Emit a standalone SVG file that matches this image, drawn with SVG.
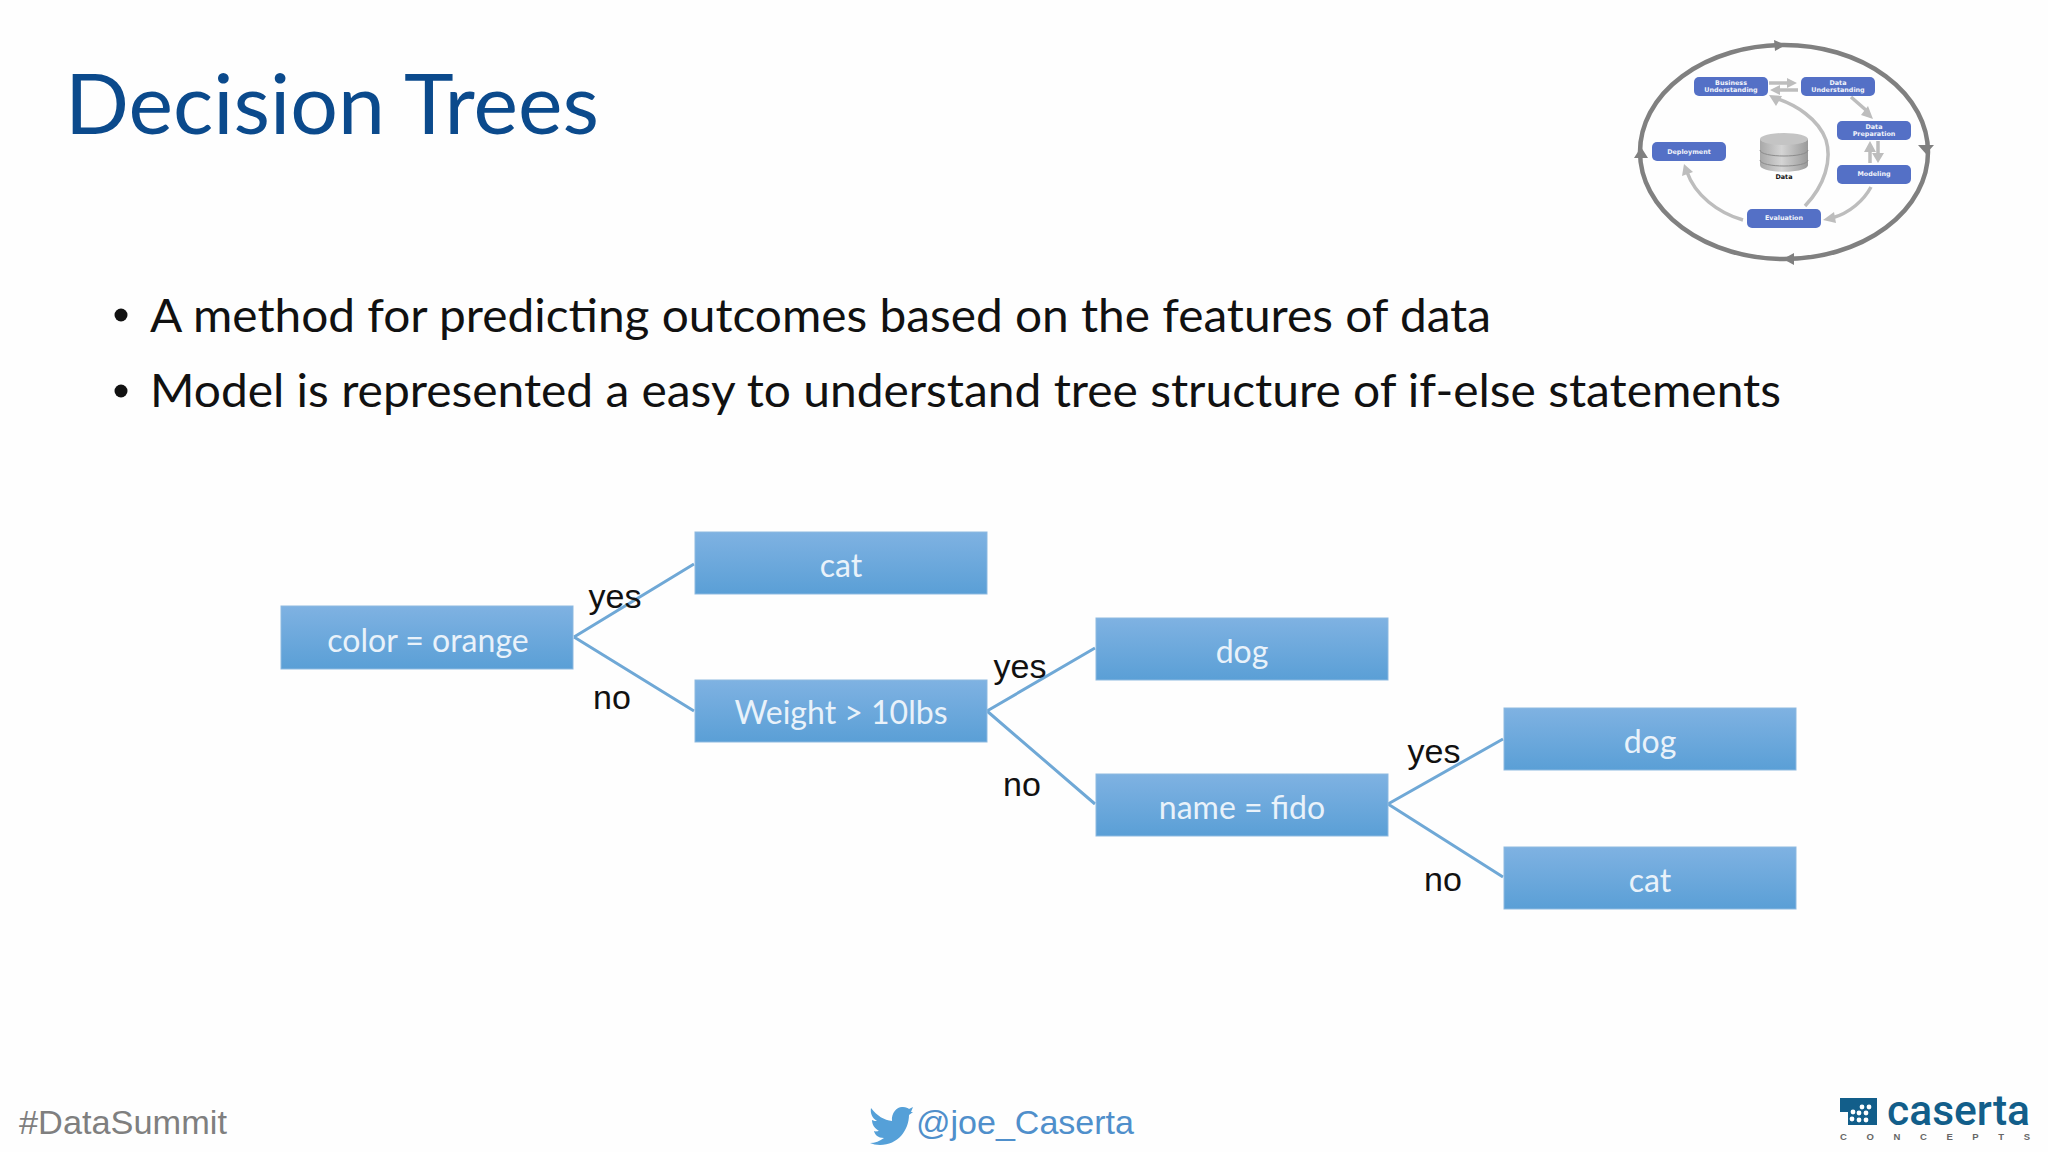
<svg xmlns="http://www.w3.org/2000/svg" width="2048" height="1152" viewBox="0 0 2048 1152">
<style>
.lato{font-family:Lato,"Liberation Sans",sans-serif}
.arial{font-family:"Liberation Sans",Arial,sans-serif}
.box{fill:url(#boxg);stroke:#8db9e0;stroke-width:1}
.boxt{font-family:Lato,"Liberation Sans",sans-serif;font-size:32px;fill:#e9f2fa;text-anchor:middle}
.lab{font-family:"Liberation Sans",Arial,sans-serif;font-size:34px;fill:#111;text-anchor:middle}
.con{stroke:#6fa8d6;stroke-width:3;fill:none}
.bul{font-family:Lato,"Liberation Sans",sans-serif;font-size:46px;fill:#111}
.in{fill:#5470c6}
.int{font-family:"DejaVu Sans",sans-serif;font-size:6.4px;font-weight:700;fill:#f2f4fb;text-anchor:middle}
.outer{fill:none;stroke:#808080;stroke-width:4.5}
.ga{fill:#808080}
.lg{fill:none;stroke:#bdbdbd;stroke-width:3.5}
.lga{fill:#bdbdbd}
</style>
<defs>
<linearGradient id="boxg" x1="0" y1="0" x2="0" y2="1"><stop offset="0" stop-color="#7fb2e2"/><stop offset="1" stop-color="#5a9fd6"/></linearGradient>
<linearGradient id="cyl" x1="0" y1="0" x2="1" y2="0"><stop offset="0" stop-color="#a8a8a8"/><stop offset=".45" stop-color="#d4d4d4"/><stop offset="1" stop-color="#9a9a9a"/></linearGradient>
</defs>
<rect width="2048" height="1152" fill="#fefefe"/>
<text id="title" class="lato" x="65" y="134" font-size="84" fill="#0b4a8c" textLength="534" lengthAdjust="spacingAndGlyphs">Decision Trees</text>
<g id="bullets">
<circle cx="121" cy="315" r="6.5" fill="#111"/>
<text class="bul" x="150" y="332" textLength="1341" lengthAdjust="spacingAndGlyphs">A method for predicting outcomes based on the features of data</text>
<circle cx="121" cy="391" r="6.5" fill="#111"/>
<text class="bul" x="150" y="407" textLength="1631" lengthAdjust="spacingAndGlyphs">Model is represented a easy to understand tree structure of if-else statements</text>
</g>
<g id="connectors">
<path class="con" d="M574 637L694 564M574 637L694 711M987 711L1095 648M987 711L1095 804M1388 804L1503 739M1388 804L1503 877"/>
</g>
<g id="n-color"><rect class="box" x="281" y="606" width="292" height="63"/><text class="boxt" x="428" y="652">color = orange</text></g>
<g id="n-cat1"><rect class="box" x="695" y="532" width="292" height="62"/><text class="boxt" x="841" y="577">cat</text></g>
<g id="n-weight"><rect class="box" x="695" y="680" width="292" height="62"/><text class="boxt" x="841" y="724">Weight &gt; 10lbs</text></g>
<g id="n-dog1"><rect class="box" x="1096" y="618" width="292" height="62"/><text class="boxt" x="1242" y="663">dog</text></g>
<g id="n-name"><rect class="box" x="1096" y="774" width="292" height="62"/><text class="boxt" x="1242" y="819">name = fido</text></g>
<g id="n-dog2"><rect class="box" x="1504" y="708" width="292" height="62"/><text class="boxt" x="1650" y="753">dog</text></g>
<g id="n-cat2"><rect class="box" x="1504" y="847" width="292" height="62"/><text class="boxt" x="1650" y="892">cat</text></g>
<g id="labels">
<text class="lab" x="615" y="608">yes</text><text class="lab" x="612" y="709">no</text>
<text class="lab" x="1020" y="678">yes</text><text class="lab" x="1022" y="796">no</text>
<text class="lab" x="1434" y="763">yes</text><text class="lab" x="1443" y="891">no</text>
</g>
<g id="crisp">
<ellipse class="outer" cx="1784" cy="152" rx="144" ry="107"/>
<path class="ga" d="M1774 40L1786 45L1775 51ZM1918 145L1934 145L1926 154ZM1634 158L1648 158L1641 147ZM1794 253L1783 259L1794 265Z"/>
<path class="lg" d="M1769 83H1788M1798 90H1778M1851 97L1867 111M1870 163V150M1878 141V154M1871 187C1864 200 1850 213 1832 218M1805 206C1825 185 1832 160 1826 140C1818 118 1795 105 1778 99M1743 220C1718 213 1695 195 1687 172"/>
<path class="lga" d="M1787 78L1797 83L1787 88ZM1780 85L1770 90L1780 95ZM1873 119L1861 115L1868 106ZM1864 152H1876L1870 141ZM1872 153H1884L1878 163ZM1823 220L1834 212L1836 223ZM1769 95L1782 96L1776 106ZM1684 164L1693 172L1682 176Z"/>
<rect class="in" x="1694" y="77" width="74" height="19" rx="5"/><text class="int" x="1731" y="85">Business</text><text class="int" x="1731" y="92">Understanding</text>
<rect class="in" x="1801" y="77" width="74" height="19" rx="5"/><text class="int" x="1838" y="85">Data</text><text class="int" x="1838" y="92">Understanding</text>
<rect class="in" x="1837" y="121" width="74" height="19" rx="5"/><text class="int" x="1874" y="129">Data</text><text class="int" x="1874" y="136">Preparation</text>
<rect class="in" x="1837" y="165" width="74" height="19" rx="5"/><text class="int" x="1874" y="176">Modeling</text>
<rect class="in" x="1652" y="142" width="74" height="19" rx="5"/><text class="int" x="1689" y="154">Deployment</text>
<rect class="in" x="1747" y="209" width="74" height="19" rx="5"/><text class="int" x="1784" y="220">Evaluation</text>
<path d="M1760 139V165C1760 174 1808 174 1808 165V139Z" fill="url(#cyl)"/>
<ellipse cx="1784" cy="139" rx="24" ry="6" fill="#c4c4c4"/>
<path d="M1760 150C1760 158 1808 158 1808 150M1760 160C1760 168 1808 168 1808 160" fill="none" stroke="#8c8c8c" stroke-width="1"/>
<text x="1784" y="179" font-family="DejaVu Sans,sans-serif" font-size="6.4" font-weight="700" fill="#111" text-anchor="middle">Data</text>
</g>
<g id="footer">
<text class="arial" x="19" y="1134" font-size="33" fill="#7f7f7f" textLength="208" lengthAdjust="spacingAndGlyphs">#DataSummit</text>
<path d="M871 1108C877 1116 884 1120 892 1121C891 1112 898 1106 903 1107C906 1107 908 1108 909 1109L913 1107L911 1112L913 1112L909 1115C909 1130 898 1145 880 1145C876 1145 873 1144 870 1143C875 1143 880 1141 884 1138C878 1138 875 1135 874 1131C876 1132 878 1131 879 1131C874 1128 872 1124 872 1120C874 1121 875 1121 877 1121C872 1118 870 1113 871 1108Z" fill="#55a0d8"/>
<text class="arial" x="916" y="1134" font-size="33" fill="#4f8fcb" textLength="218" lengthAdjust="spacingAndGlyphs">@joe_Caserta</text>
<g id="logo">
<path d="M1840 1098H1877V1125H1848V1112H1840Z" fill="#125e8a"/>
<circle cx="1862" cy="1107" r="2.4" fill="#fff"/><circle cx="1869" cy="1107" r="2.4" fill="#fff"/><circle cx="1853" cy="1112" r="2.4" fill="#fff"/><circle cx="1859" cy="1113" r="2.4" fill="#fff"/><circle cx="1866" cy="1113" r="2.4" fill="#fff"/><circle cx="1859" cy="1120" r="2.4" fill="#fff"/><circle cx="1866" cy="1120" r="2.4" fill="#fff"/><circle cx="1852" cy="1119" r="2.4" fill="#fff"/>
<text x="1887" y="1125" font-family="Roboto,Lato,sans-serif" font-size="42" font-weight="500" fill="#125e8a" textLength="143" lengthAdjust="spacingAndGlyphs">caserta</text>
<text x="1840" y="1140" font-family="Liberation Sans,sans-serif" font-size="9.5" font-weight="700" fill="#666" textLength="190">CONCEPTS</text>
</g>
</g>
</svg>
